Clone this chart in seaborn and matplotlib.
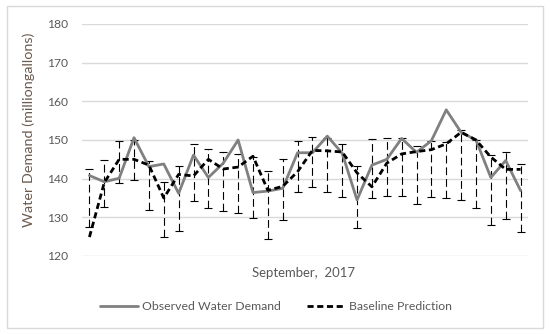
import matplotlib
matplotlib.use("Agg")
import matplotlib.pyplot as plt
from matplotlib.patches import Rectangle
import seaborn as sns
import numpy as np

# Daily values, September 2017
days = list(range(1, 31))
observed = [140.8, 139.2, 140.1, 150.6, 143.1, 143.8, 136.2, 146.1, 140.3, 144.0,
            150.0, 136.4, 136.8, 137.5, 146.7, 146.7, 151.0, 146.6, 134.5, 143.5,
            145.0, 150.4, 146.8, 149.8, 157.8, 152.0, 150.0, 140.3, 144.7, 136.9]
baseline = [124.9, 139.0, 145.0, 145.0, 143.5, 135.0, 141.1, 140.7, 145.0, 142.5,
            143.0, 145.8, 137.0, 138.0, 141.8, 147.3, 147.2, 146.9, 141.5, 137.9,
            144.0, 146.4, 147.0, 147.5, 149.0, 152.0, 150.0, 145.6, 142.4, 142.4]
err_low = [127.6, 132.6, 139.0, 139.7, 131.9, 124.8, 126.4, 134.2, 132.5, 131.6,
           131.0, 129.8, 124.3, 129.3, 136.5, 137.9, 136.5, 135.3, 127.3, 135.1,
           135.6, 135.4, 133.4, 135.2, 134.9, 134.6, 132.3, 128.0, 129.6, 126.1]
err_high = [142.4, 144.8, 149.7, 150.0, 144.6, 139.2, 143.3, 148.9, 147.7, 146.8,
            146.3, 145.6, 142.0, 145.0, 149.8, 150.9, 150.6, 148.9, 143.4, 150.3,
            150.4, 150.4, 148.4, 149.8, 149.5, 152.6, 150.0, 146.0, 146.8, 143.9]
yticks = [120, 130, 140, 150, 160, 170, 180]

sns.set_style("white")
plt.rcParams["font.family"] = ["Lato", "DejaVu Sans"]
text_color = "#595959"

W, H = 550, 334
fig = plt.figure(figsize=(W / 100, H / 100), dpi=100)
renderer = fig.canvas.get_renderer()


def fit_size(s, width_px, base=10):
    # font size that makes string s about width_px pixels wide
    t = fig.text(0, 0, s, fontsize=base)
    w = t.get_window_extent(renderer).width
    t.remove()
    return base * width_px / w


# plot area in pixels: x 82..528, y 24..256
ax = fig.add_axes([82 / W, (H - 256) / H, 446 / W, 232 / H])

x = np.array(days) - 1
low = np.array(err_low)
high = np.array(err_high)
mid = (low + high) / 2
eb = ax.errorbar(x, mid, yerr=(high - low) / 2, fmt="none", ecolor="black",
                 elinewidth=0.8, capsize=3, capthick=0.8, zorder=2)
eb[2][0].set_linestyle((0, (7, 3.5)))

sns.lineplot(x=x, y=observed, ax=ax, color="#808080", linewidth=2,
             label="Observed Water Demand", zorder=3)
sns.lineplot(x=x, y=baseline, ax=ax, color="black", linewidth=2,
             label="Baseline Prediction", zorder=4)
ax.lines[-1].set_linestyle((0, (2.2, 1.3)))

ax.set_xlim(-0.5, 29.5)
ax.set_ylim(120, 180)
ax.set_yticks(yticks)
ax.set_xticks([])
ax.grid(axis="y", color="#d9d9d9", linewidth=1)
ax.set_axisbelow(True)
for s in ax.spines.values():
    s.set_visible(False)

tick_fs = fit_size("180", 21)
ax.tick_params(axis="y", length=0, pad=10, labelsize=tick_fs, labelcolor=text_color)

ylab = "Water Demand (milliongallons)"
ax.set_ylabel(ylab, fontsize=fit_size(ylab, 195), color="#6b5a4e")
ax.yaxis.set_label_coords(-47 / 446, 0.544)

xlab = "September,  2017"
ax.set_xlabel(xlab, fontsize=fit_size(xlab, 103), color=text_color, va="center")
ax.xaxis.set_label_coords(0.496, -17 / 232)

leg_fs = fit_size("Observed Water Demand", 139)
em = leg_fs * 100 / 72
leg = ax.legend(loc="center left", bbox_to_anchor=(100 / W, (H - 307) / H),
                bbox_transform=fig.transFigure, ncol=2, frameon=False,
                fontsize=leg_fs, handlelength=38 / em, handletextpad=4 / em,
                columnspacing=26 / em, borderpad=0, borderaxespad=0)
for t in leg.get_texts():
    t.set_color(text_color)

fig.patches.append(Rectangle((7 / W, 6 / H), 536 / W, 322 / H,
                             transform=fig.transFigure, fill=False,
                             edgecolor="#d9d9d9", linewidth=1))

fig.savefig("out.png", dpi=100, facecolor="white")
